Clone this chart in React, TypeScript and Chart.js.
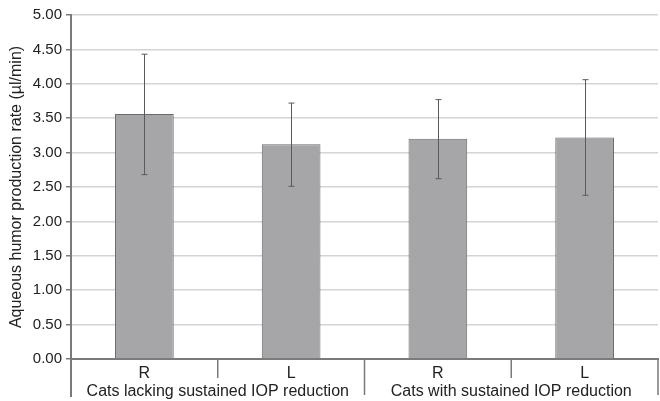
import React, { useEffect, useRef } from "react";
import { Chart, registerables } from "chart.js";

Chart.register(...registerables);

const categories = ["R", "L", "R", "L"];
const groups = ["Cats lacking sustained IOP reduction", "Cats with sustained IOP reduction"];
const means = [3.56, 3.12, 3.2, 3.22];
const errLow = [2.68, 2.51, 2.62, 2.38];
const errHigh = [4.43, 3.72, 3.77, 4.06];
const yTitle = "Aqueous humor production rate (\u00b5l/min)";

const FONT = "'Liberation Sans', Arial, sans-serif";
const FS = 16;
const TICK_FS = 15;

const errorBarPlugin = {
  id: "errorBars",
  afterDatasetsDraw(chart: any) {
    const ctx = chart.ctx;
    const x = chart.scales.x;
    const y = chart.scales.y;
    ctx.save();
    ctx.strokeStyle = "#5a5a5a";
    ctx.lineWidth = 1;
    for (let i = 0; i < means.length; i++) {
      const px = Math.round(x.getPixelForValue(i)) + 0.5;
      const top = y.getPixelForValue(errHigh[i]);
      const bot = y.getPixelForValue(errLow[i]);
      ctx.beginPath();
      ctx.moveTo(px, top);
      ctx.lineTo(px, bot);
      ctx.moveTo(px - 3, top);
      ctx.lineTo(px + 3, top);
      ctx.moveTo(px - 3, bot);
      ctx.lineTo(px + 3, bot);
      ctx.stroke();
    }
    ctx.restore();
  },
  afterDraw(chart: any) {
    const ctx = chart.ctx;
    const x = chart.scales.x;
    const area = chart.chartArea;
    const n = categories.length;
    const step = (area.right - area.left) / n;
    ctx.save();
    ctx.strokeStyle = "#7a7a7a";
    ctx.lineWidth = 2;
    ctx.beginPath();
    ctx.moveTo(area.left, area.bottom);
    ctx.lineTo(area.left, area.bottom + 38);
    ctx.stroke();
    ctx.lineWidth = 1.5;
    for (let i = 1; i <= n; i++) {
      const bx = area.left + step * i;
      const long = i % 2 === 0;
      ctx.beginPath();
      ctx.moveTo(bx, area.bottom);
      ctx.lineTo(bx, area.bottom + (long ? 36 : 19));
      ctx.stroke();
    }
    ctx.fillStyle = "#222";
    ctx.font = `${FS}px ${FONT}`;
    ctx.textAlign = "center";
    ctx.textBaseline = "middle";
    for (let i = 0; i < n; i++) {
      ctx.fillText(categories[i], x.getPixelForValue(i), area.bottom + 15);
    }
    for (let g = 0; g < groups.length; g++) {
      const cx = area.left + step * (2 * g + 1);
      ctx.fillText(groups[g], cx, area.bottom + 33);
    }
    ctx.restore();
  },
};

export default function App() {
  const ref = useRef<HTMLCanvasElement>(null);
  useEffect(() => {
    document.body.style.margin = "0";
    const chart = new Chart(ref.current!, {
      type: "bar",
      data: {
        labels: categories,
        datasets: [
          {
            data: means,
            backgroundColor: "#a6a6a9",
            borderColor: "#6a6a6a",
            borderWidth: 1,
            barPercentage: 0.8,
            categoryPercentage: 0.5,
          },
        ],
      },
      options: {
        animation: false,
        responsive: false,
        maintainAspectRatio: false,
        layout: { padding: { top: 15, right: 2, left: 0, bottom: 0 } },
        plugins: { legend: { display: false }, tooltip: { enabled: false } },
        scales: {
          x: {
            offset: true,
            ticks: { display: false },
            grid: { display: false },
            border: { display: true, color: "#7a7a7a", width: 2 },
            afterFit: (s: any) => {
              s.height = 42;
            },
          },
          y: {
            min: 0,
            max: 5,
            ticks: {
              stepSize: 0.5,
              color: "#222",
              font: { family: FONT, size: TICK_FS },
              padding: 4,
              callback: (v: any) => Number(v).toFixed(2),
            },
            grid: { color: "#d4d4d4", lineWidth: 1.5, tickColor: "#7a7a7a", tickLength: 5 },
            border: { display: true, color: "#7a7a7a", width: 2 },
            title: {
              display: true,
              text: yTitle,
              color: "#222",
              font: { family: FONT, size: FS },
              padding: { top: 7, bottom: 0 },
            },
            afterFit: (s: any) => {
              s.width = 71;
            },
          },
        },
      },
      plugins: [errorBarPlugin],
    });
    return () => chart.destroy();
  }, []);
  return <canvas ref={ref} width={660} height={401} style={{ display: "block" }} />;
}
